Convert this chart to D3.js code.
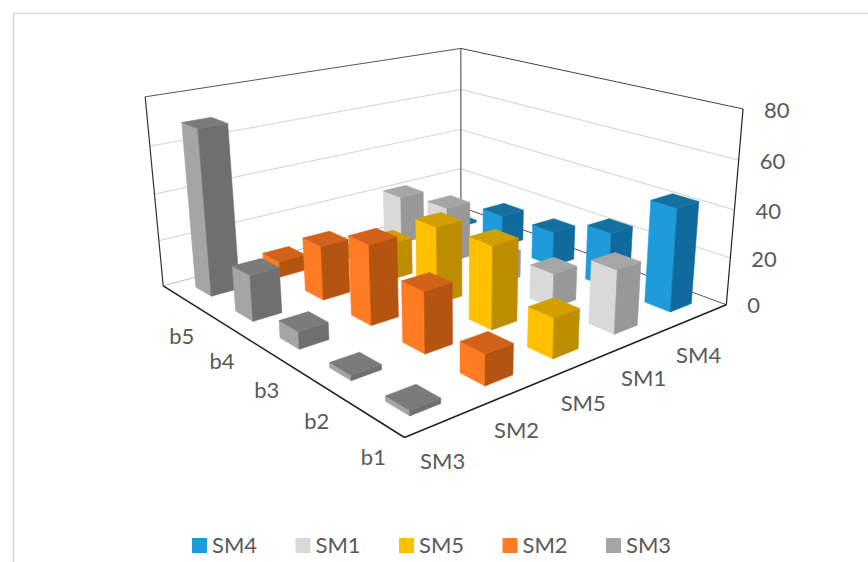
<!DOCTYPE html>
<html>
<head>
<meta charset="utf-8">
<script src="https://cdn.jsdelivr.net/npm/d3@7/dist/d3.min.js"></script>
<style>
html,body{margin:0;padding:0;background:#fff;overflow:hidden}
text{font-family:Lato,"Open Sans",sans-serif;fill:#595959}
</style>
</head>
<body>
<svg id="chart" width="868" height="562"></svg>
<script>
// Depth order along the floor, front to back
const seriesDepth = ["SM3", "SM2", "SM5", "SM1", "SM4"];
const legendOrder = ["SM4", "SM1", "SM5", "SM2", "SM3"];
const categories = ["b1", "b2", "b3", "b4", "b5"];
const valueTicks = [0, 20, 40, 60, 80];

// Values per series, listed b1..b5
const sm3Values = [2, 2, 7, 19, 70];
const sm2Values = [12, 24.5, 33, 23, 7];
const sm5Values = [16, 34, 32.5, 16, 1];
const sm1Values = [26, 14.5, 12, 25, 22];
const sm4Values = [43, 24, 15.5, 14.5, 1];
const seriesValues = {SM3: sm3Values, SM2: sm2Values, SM5: sm5Values, SM1: sm1Values, SM4: sm4Values};

// left face, right face, top face
const seriesShades = {
  SM4: ["#1f9bdb", "#0f6b9e", "#14709f"],
  SM1: ["#d9d9d9", "#989898", "#a6a6a6"],
  SM5: ["#ffc000", "#bd8e00", "#d29f00"],
  SM2: ["#ff7c24", "#b55310", "#d2611a"],
  SM3: ["#a5a5a5", "#6f6f6f", "#7b7b7b"]
};

// Camera fit: box corners (series depth, category depth, height) -> page position
const boxAnchors = [
  [0, 0, 0, 405, 437], [1, 0, 0, 726, 306], [0, 1, 0, 163, 286], [1, 1, 0, 461, 206],
  [0, 1, 1, 145, 97], [1, 1, 1, 461, 49], [1, 0, 1, 743, 108]
];

function solveLeastSquares(A, b) {
  const n = A[0].length;
  const M = d3.range(n).map(i => {
    const row = d3.range(n).map(j => d3.sum(A, r => r[i] * r[j]));
    row.push(d3.sum(A, (r, k) => r[i] * b[k]));
    return row;
  });
  for (let c = 0; c < n; c++) {
    let p = c;
    for (let r = c + 1; r < n; r++) if (Math.abs(M[r][c]) > Math.abs(M[p][c])) p = r;
    [M[c], M[p]] = [M[p], M[c]];
    for (let r = 0; r < n; r++) {
      if (r === c) continue;
      const f = M[r][c] / M[c][c];
      for (let k = c; k <= n; k++) M[r][k] -= f * M[c][k];
    }
  }
  return M.map((row, i) => row[n] / row[i]);
}

const rows = [], rhs = [];
boxAnchors.forEach(([u, v, w, x, y]) => {
  rows.push([u, v, w, 1, 0, 0, 0, 0, -x * u, -x * v, -x * w]); rhs.push(x);
  rows.push([0, 0, 0, 0, u, v, w, 1, -y * u, -y * v, -y * w]); rhs.push(y);
});
const cam = solveLeastSquares(rows, rhs);
function project(u, v, w) {
  const d = cam[8] * u + cam[9] * v + cam[10] * w + 1;
  return [(cam[0] * u + cam[1] * v + cam[2] * w + cam[3]) / d,
          (cam[4] * u + cam[5] * v + cam[6] * w + cam[7]) / d];
}

const uScale = d3.scaleBand().domain(seriesDepth).range([0, 1]).paddingInner(0.6).paddingOuter(0.3);
const vScale = d3.scaleBand().domain(categories).range([0, 1]).paddingInner(0.6).paddingOuter(0.3);
const wScale = d3.scaleLinear().domain([0, 80]).range([0, 1]);
const centerU = s => uScale(s) + uScale.bandwidth() / 2;
const centerV = c => vScale(c) + vScale.bandwidth() / 2;

const svg = d3.select("#chart");
const poly = pts => d3.line()(pts) + "Z";

// Outer chart frame, clipped by the page on the right and bottom
svg.append("path").attr("d", "M13.5,562V13.5H868").attr("fill", "none").attr("stroke", "#d9d9d9").attr("stroke-width", 1.5);

// Wall gridlines
const grid = svg.append("g").attr("fill", "none").attr("stroke", "#d9d9d9").attr("stroke-width", 1.2);
valueTicks.slice(1, -1).forEach(t => {
  const w = wScale(t);
  grid.append("path").attr("d", d3.line()([project(0, 1, w), project(1, 1, w), project(1, 0, w)]));
});

// Box edges
const edge = (a, b, color, width) => svg.append("path")
  .attr("d", d3.line()([project(...a), project(...b)]))
  .attr("fill", "none").attr("stroke", color).attr("stroke-width", width);
edge([0, 1, 0], [1, 1, 0], "#bfbfbf", 1);
edge([1, 1, 0], [1, 0, 0], "#555", 1);
edge([1, 1, 0], [1, 1, 1], "#777", 1.4);
edge([0, 1, 1], [1, 1, 1], "#555", 1);
edge([1, 1, 1], [1, 0, 1], "#444", 1);
edge([0, 1, 0], [0, 1, 1], "#333", 1.2);
edge([1, 0, 0], [1, 0, 1], "#222", 1.2);
edge([0, 1, 0], [0, 0, 0], "#222", 1.6);
edge([0, 0, 0], [1, 0, 0], "#222", 1.6);

// Bars, painted from the back corner towards the front corner
const bars = [];
seriesDepth.forEach(s => categories.forEach((c, i) => bars.push({s, c, value: seriesValues[s][i]})));
bars.sort((a, b) => d3.descending(categories.indexOf(a.c) + seriesDepth.indexOf(a.s),
                                 categories.indexOf(b.c) + seriesDepth.indexOf(b.s)));

const barGroups = svg.append("g").selectAll("g").data(bars).join("g");
barGroups.each(function (d) {
  const u0 = uScale(d.s), u1 = u0 + uScale.bandwidth();
  const v0 = vScale(d.c), v1 = v0 + vScale.bandwidth();
  const h = wScale(d.value);
  const [left, right, top] = seriesShades[d.s];
  const g = d3.select(this);
  // A hairline in the face colour closes the antialiasing seams between faces
  const face = (pts, color) => g.append("path").attr("d", poly(pts)).attr("fill", color)
    .attr("stroke", color).attr("stroke-width", 0.6).attr("stroke-linejoin", "round");
  face([project(u0, v1, 0), project(u0, v0, 0), project(u0, v0, h), project(u0, v1, h)], left);
  face([project(u0, v0, 0), project(u1, v0, 0), project(u1, v0, h), project(u0, v0, h)], right);
  face([project(u0, v0, h), project(u1, v0, h), project(u1, v1, h), project(u0, v1, h)], top);
});

// Axis labels
valueTicks.forEach(t => {
  const [x, y] = project(1, 0, wScale(t));
  svg.append("text").attr("x", x + 21).attr("y", y + 1).attr("dy", "0.35em").attr("font-size", 22).text(t);
});
seriesDepth.forEach(s => {
  const [x, y] = project(centerU(s), 0, 0);
  svg.append("text").attr("x", x - 2).attr("y", y + 40).attr("dy", "0.35em").attr("text-anchor", "middle").attr("font-size", 22).text(s);
});
categories.forEach(c => {
  const [x, y] = project(0, centerV(c), 0);
  svg.append("text").attr("x", x).attr("y", y + 39).attr("dy", "0.35em").attr("text-anchor", "middle").attr("font-size", 22).text(c);
});

// Legend
const legendX = d3.scalePoint().domain(legendOrder).range([192, 606]);
const legend = svg.append("g").selectAll("g").data(legendOrder).join("g")
  .attr("transform", d => `translate(${legendX(d)},538)`);
legend.append("rect").attr("width", 15).attr("height", 15).attr("fill", d => seriesShades[d][0]);
legend.append("text").attr("x", 20).attr("y", 7).attr("dy", "0.35em").attr("font-size", 22).text(d => d);
</script>
</body>
</html>
